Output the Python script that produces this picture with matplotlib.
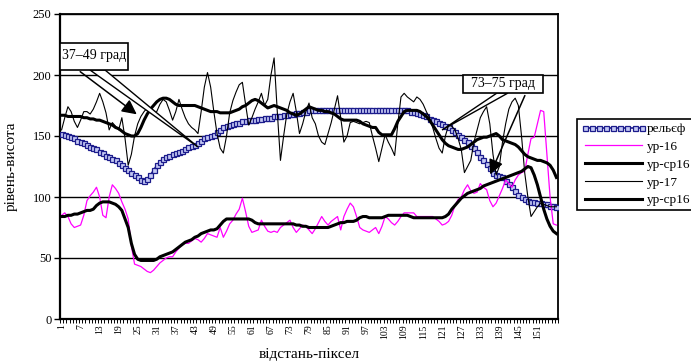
import matplotlib
matplotlib.use("Agg")
import matplotlib.pyplot as plt
import numpy as np
from matplotlib.patches import Polygon, Rectangle, FancyArrowPatch

# ---- data (157 points each) ----
relief = [
    152, 151, 150, 149, 148, 146, 145, 144, 143, 141,
    140, 139, 137, 136, 134, 133, 131, 130, 128, 126,
    124, 122, 120, 118, 116, 114, 113, 115, 118, 122,
    126, 129, 131, 133, 134, 135, 136, 137, 138, 139,
    141, 142, 143, 144, 146, 148, 149, 150, 151, 153,
    155, 157, 158, 159, 160, 161, 161, 162, 162, 163,
    163, 163, 164, 164, 165, 165, 165, 166, 166, 166,
    167, 167, 168, 168, 169, 169, 170, 170, 171, 171,
    171, 171, 171, 171, 171, 171, 171, 171, 171, 171,
    171, 171, 171, 171, 171, 171, 171, 171, 171, 171,
    171, 171, 171, 171, 171, 171, 171, 171, 171, 171,
    170, 170, 169, 168, 167, 166, 164, 163, 162, 161,
    160, 158, 157, 155, 153, 151, 149, 147, 145, 142,
    140, 137, 133, 130, 127, 124, 120, 118, 117, 116,
    113, 111, 108, 105, 102, 100, 98, 97, 96, 96,
    95, 95, 94, 94, 93, 93, 92,
]
ur16 = [
    85, 87, 84, 78, 75, 76, 77, 85, 97, 101,
    104, 108, 100, 85, 83, 100, 110, 107, 103, 96,
    90, 82, 60, 45, 44, 43, 41, 39, 38, 40,
    43, 46, 48, 50, 51, 51, 55, 58, 61, 62,
    62, 64, 66, 65, 63, 66, 70, 69, 68, 67,
    75, 67, 72, 78, 81, 86, 90, 99, 88, 76,
    71, 72, 73, 81, 76, 72, 71, 72, 71, 75,
    77, 79, 81, 75, 71, 74, 77, 76, 73, 70,
    74, 79, 84, 80, 77, 80, 82, 84, 73, 84,
    90, 95, 92, 84, 75, 73, 72, 71, 73, 75,
    70, 76, 84, 82, 79, 77, 80, 84, 87, 87,
    87, 87, 84, 84, 84, 84, 84, 84, 82, 80,
    77, 78, 80, 85, 93, 98, 100, 106, 110, 105,
    103, 104, 111, 108, 106, 97, 92, 95, 101, 107,
    114, 111, 108, 114, 118, 120, 121, 135, 148, 149,
    160, 171, 170, 135, 100, 78, 77,
]
ur_sr16_low = [
    84, 84, 85, 85, 86, 86, 87, 88, 89, 89,
    90, 93, 95, 96, 96, 96, 95, 94, 92, 89,
    82, 75, 62, 53, 49, 48, 48, 48, 48, 48,
    49, 51, 52, 53, 54, 55, 57, 59, 61, 63,
    64, 65, 67, 68, 70, 71, 72, 73, 73, 74,
    77, 80, 82, 82, 82, 82, 82, 82, 82, 82,
    81, 79, 78, 78, 78, 78, 78, 78, 78, 78,
    78, 78, 78, 78, 77, 77, 76, 76, 75, 75,
    75, 75, 75, 75, 75, 76, 77, 78, 79, 79,
    80, 80, 80, 81, 83, 84, 84, 83, 83, 83,
    83, 83, 84, 85, 85, 85, 85, 85, 85, 85,
    84, 83, 83, 83, 83, 83, 83, 83, 83, 83,
    83, 84, 86, 90, 93, 96, 99, 101, 103, 104,
    105, 106, 107, 109, 110, 111, 112, 113, 114, 115,
    116, 117, 118, 119, 120, 121, 123, 125, 124, 118,
    110, 100, 90, 82, 76, 72, 70,
]
ur17 = [
    155, 165, 174, 170, 162, 157, 163, 170, 170, 168,
    172, 178, 185, 178, 169, 155, 161, 158, 155, 165,
    148, 126, 135, 150, 160, 166, 170, 173, 171, 168,
    170, 176, 180, 178, 171, 163, 170, 180, 172, 165,
    160, 157, 155, 152, 170, 190, 202, 190, 170, 152,
    140, 136, 150, 169, 179, 186, 192, 194, 176, 159,
    165, 172, 178, 185, 175, 180, 200, 214, 170, 130,
    150, 168, 178, 185, 170, 152, 160, 170, 177, 165,
    160, 150, 145, 143, 152, 161, 172, 183, 165, 145,
    150, 161, 162, 161, 160, 161, 162, 161, 150, 140,
    129, 140, 151, 145, 140, 134, 160, 182, 185, 182,
    180, 178, 182, 180, 176, 170, 165, 157, 148, 140,
    136, 150, 159, 158, 155, 148, 139, 120, 125, 130,
    145, 155, 165, 170, 174, 160, 135, 118, 125, 145,
    160, 172, 178, 181, 175, 150, 120, 100, 84, 88,
    92, 95, 94, 93, 92, 92, 92,
]
ur_sr16_high = [
    167, 167, 166, 166, 166, 166, 166, 165, 165, 164,
    164, 163, 163, 162, 161, 160, 159, 157, 156, 154,
    152, 151, 150, 150, 152, 157, 163, 168, 172, 175,
    178, 180, 181, 181, 180, 178, 176, 175, 175, 175,
    175, 175, 175, 174, 173, 172, 171, 170, 170, 170,
    169, 169, 169, 169, 170, 171, 172, 174, 175, 177,
    179, 180, 179, 177, 175, 173, 174, 175, 174, 173,
    172, 171, 169, 168, 167, 168, 170, 172, 174, 173,
    172, 171, 171, 170, 170, 169, 168, 166, 164, 163,
    163, 163, 163, 163, 162, 160, 159, 158, 157, 157,
    153, 151, 151, 151, 151, 156, 162, 166, 170, 171,
    171, 171, 171, 170, 168, 166, 163, 159, 155, 151,
    147, 144, 142, 141, 140, 139, 139, 140, 141, 143,
    145, 147, 148, 149, 149, 150, 151, 152, 150, 147,
    146, 145, 144, 143, 141, 138, 135, 133, 132, 131,
    130, 130, 129, 128, 126, 122, 116,
]
labels = ["рельєф", "ур-16", "ур-ср16", "ур-17", "ур-ср16"]
x_ticks = list(range(1, 152, 6))
x_label = "відстань-піксел"
y_label = "рівень-висота"
note_left = "37–49 град"
note_right = "73–75 град"

W, H = 691, 363
plt.rcParams["font.family"] = ["Liberation Serif", "DejaVu Serif"]


def fxy(x, y):
    # pixel position measured from top-left -> figure fraction
    return (x / W, 1 - y / H)


def main():
    n = len(relief)
    x = np.arange(1, n + 1)

    fig = plt.figure(figsize=(W / 100, H / 100), dpi=100)
    ax = fig.add_axes([60 / W, 1 - 319 / H, 498 / W, 305 / H])

    ax.plot(x, relief, color="#1c1c8c", lw=1.2, marker="s", markersize=3.6,
            mfc="#c4c8f4", mec="#1c1c8c", mew=0.9, label=labels[0], zorder=3)
    ax.plot(x, ur16, color="#ff00ff", lw=0.9, label=labels[1], zorder=4)
    ax.plot(x, ur_sr16_low, color="black", lw=2.2, label=labels[2], zorder=5)
    ax.plot(x, ur17, color="black", lw=0.8, label=labels[3], zorder=4)
    ax.plot(x, ur_sr16_high, color="black", lw=2.2, label=labels[4], zorder=5)

    ax.set_xlim(0.5, n + 0.5)
    ax.set_ylim(0, 250)
    ax.set_yticks(np.arange(0, 251, 50))
    ax.yaxis.grid(True, color="black", lw=1)
    ax.set_axisbelow(True)

    ax.set_xticks(x_ticks)
    ax.set_xticklabels([str(v) for v in x_ticks], rotation=90, fontsize=7)
    ax.set_xticks(np.arange(0.5, n + 1, 1), minor=True)
    ax.tick_params(axis="x", which="major", length=0, pad=4)
    ax.tick_params(axis="x", which="minor", length=3, width=0.7)
    ax.tick_params(axis="y", length=4, width=1, labelsize=9, pad=2)

    for side in ["left", "bottom"]:
        ax.spines[side].set_linewidth(1.6)
    for side in ["top", "right"]:
        ax.spines[side].set_linewidth(1.3)

    ax.set_xlabel(x_label, fontsize=11, labelpad=6)
    ax.set_ylabel(y_label, fontsize=11, labelpad=11)

    leg = fig.legend(loc="upper left", bbox_to_anchor=fxy(577, 119), fontsize=9.5,
                     frameon=True, fancybox=False, framealpha=1, edgecolor="black",
                     handlelength=4.9, handletextpad=0.1, labelspacing=0.42,
                     borderpad=0.3, borderaxespad=0, numpoints=9)
    leg.get_frame().set_linewidth(1.2)

    # callouts
    for pts in ([fxy(90, 70), fxy(105, 70), fxy(198, 147)],
                [fxy(497, 93), fxy(508, 93), fxy(442, 130)]):
        fig.add_artist(Polygon(pts, closed=True, fc="white", ec="black", lw=1,
                               transform=fig.transFigure, zorder=5))
    for a, b in ((fxy(78, 70), fxy(139, 116)), (fxy(526, 93), fxy(489, 177))):
        fig.add_artist(FancyArrowPatch(a, b, arrowstyle="-|>", mutation_scale=22,
                                       lw=1.1, color="black",
                                       transform=fig.transFigure, zorder=6))
    fig.add_artist(Rectangle(fxy(60, 70), 68 / W, 27 / H, fc="white", ec="black",
                             lw=1.2, transform=fig.transFigure, zorder=7))
    fig.add_artist(Rectangle(fxy(463, 93), 80 / W, 18 / H, fc="white", ec="black",
                             lw=1.2, transform=fig.transFigure, zorder=7))
    fig.text(*fxy(62, 56), note_left, fontsize=10, ha="left", va="center", zorder=8)
    fig.text(*fxy(503, 84), note_right, fontsize=10, ha="center", va="center", zorder=8)

    fig.savefig("out.png", dpi=100)


if __name__ == "__main__":
    main()
